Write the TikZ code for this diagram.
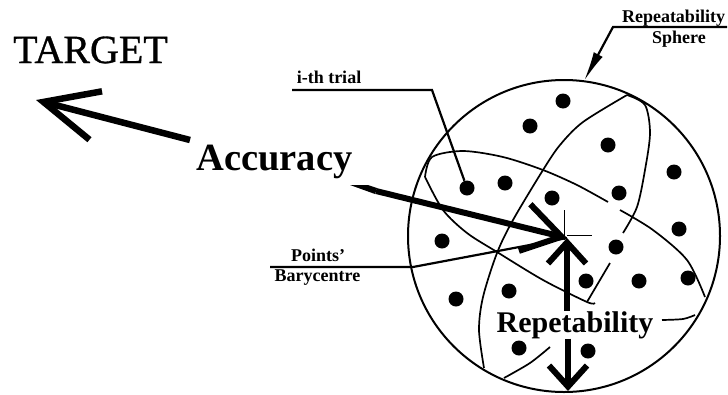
\documentclass[tikz,border=0pt]{standalone}
\usepackage{fontspec}
\setmainfont{Liberation Serif}
\newfontfamily\heavyfont[FakeBold=0.8]{Liberation Serif}
\usetikzlibrary{positioning,arrows.meta,calc}

\begin{document}
\begin{tikzpicture}[
  x=1pt, y=-1pt,
  title/.style={inner sep=0pt, anchor=base, font=\fontsize{40}{40}\heavyfont},
  big/.style={inner sep=0pt, anchor=base, font=\fontsize{38.5}{38.5}\selectfont\bfseries},
  mid/.style={inner sep=0pt, anchor=base, font=\fontsize{30}{30}\selectfont\bfseries},
  small/.style={inner sep=0pt, anchor=base, font=\fontsize{18}{18}\selectfont\bfseries},
  trial/.style={circle, fill=black, inner sep=0pt, minimum size=15pt},
  arc/.style={line width=1.7pt},
  leader/.style={line width=2.2pt},
  arrow/.style={line width=6pt, -{Straight Barb[length=38pt, width=48pt, line width=6pt]}},
  arrowlong/.style={line width=6.5pt, -{Straight Barb[length=54pt, width=50pt, line width=6.5pt]}},
  arrowsmall/.style={line width=6pt, -{Straight Barb[length=21pt, width=38pt, line width=6pt]}},
]
\useasboundingbox (0,0) rectangle (728,394);

% === Sphere and points ===
\node[circle, draw, line width=2pt, inner sep=0pt, minimum size=312pt] (sphere) at (564,236) {};
\foreach \px/\py [count=\i] in {563/101, 530/126, 608/145, 674/172, 619/193, 467/188,
    505/183, 552/198, 679/229, 442/241, 616/247, 586/281, 639/281, 688/278, 456/299,
    509/291, 519/348, 588/351}
  \node[trial] (p\i) at (\px,\py) {};

% === Great circles ===
\draw[arc] plot[smooth] coordinates {(425,177) (432,157) (463,151) (503,157) (543,170) (577,185) (608,202)};
\draw[arc] plot[smooth] coordinates {(620,210) (653,230) (687,260) (705,297)};
\draw[arc] plot[smooth] coordinates {(425,177) (443,210) (467,233) (497,252) (543,280) (587,302) (595,303)};
\draw[arc] plot[smooth] coordinates {(627,95) (583,122) (560,145) (543,170) (513,220) (497,253) (483,297) (479,330) (484,368)};
\draw[arc] plot[smooth] coordinates {(504,378) (530,363) (550,347)};
\draw[arc] plot[smooth] coordinates {(627,95) (645,105) (650,133) (645,170) (637,207) (623,233)};
\draw[arc] (610,263) -- (587,302);
\draw[arc] plot[smooth] coordinates {(662,320) (683,319) (695,315)};

% === Labels ===
\node[title] (target) at (90.5,63) {TARGET};
\node[big] (accuracy) at (274.5,170) {Accuracy};
\node[mid] (rep) at (575,332) {Repetability};
\node[small] (ith) at (329,83) {i-th trial};
\node[small] (sphname) at (673.5,22.7) {Repeatability};
\node[small] (sphname2) at (679,43) {Sphere};
\node[small] (points) at (318,261) {Points'};
\node[small] (bary) at (317.5,281.7) {Barycentre};

% === Free ends ===
\coordinate (centre) at (567,238);
\coordinate (bottom) at (568,391);
\coordinate (tgttip) at (36,100);
\coordinate (tgttail) at (190,140);
\coordinate (acctail) at (350,185);
\coordinate (accstart) at (376,191);

% === Arrows ===
\draw[arrowlong] (tgttail) -- (tgttip);
\fill (acctail) -- (368,185) -- (377,188) -- (375,194) -- cycle;
\draw[arrow] (accstart) -- (centre);
\draw[arrowsmall] (rep.north -| centre) -- (centre);
\draw[arrowsmall] (rep.south -| bottom) -- (bottom);

% === Leaders ===
\draw[leader] (292,90) -- (432,90) -- (p6);
\draw[leader, -{Latex[length=30pt, width=10pt]}] (727,27) -- (613,27) -- (584,81);
\draw[leader] (270,267) -- (413,267) -- (centre);
\draw[line width=1pt] (564,210) -- (564,240);
\draw[line width=1pt] (567,235) -- (592,235);

\end{tikzpicture}
\end{document}
